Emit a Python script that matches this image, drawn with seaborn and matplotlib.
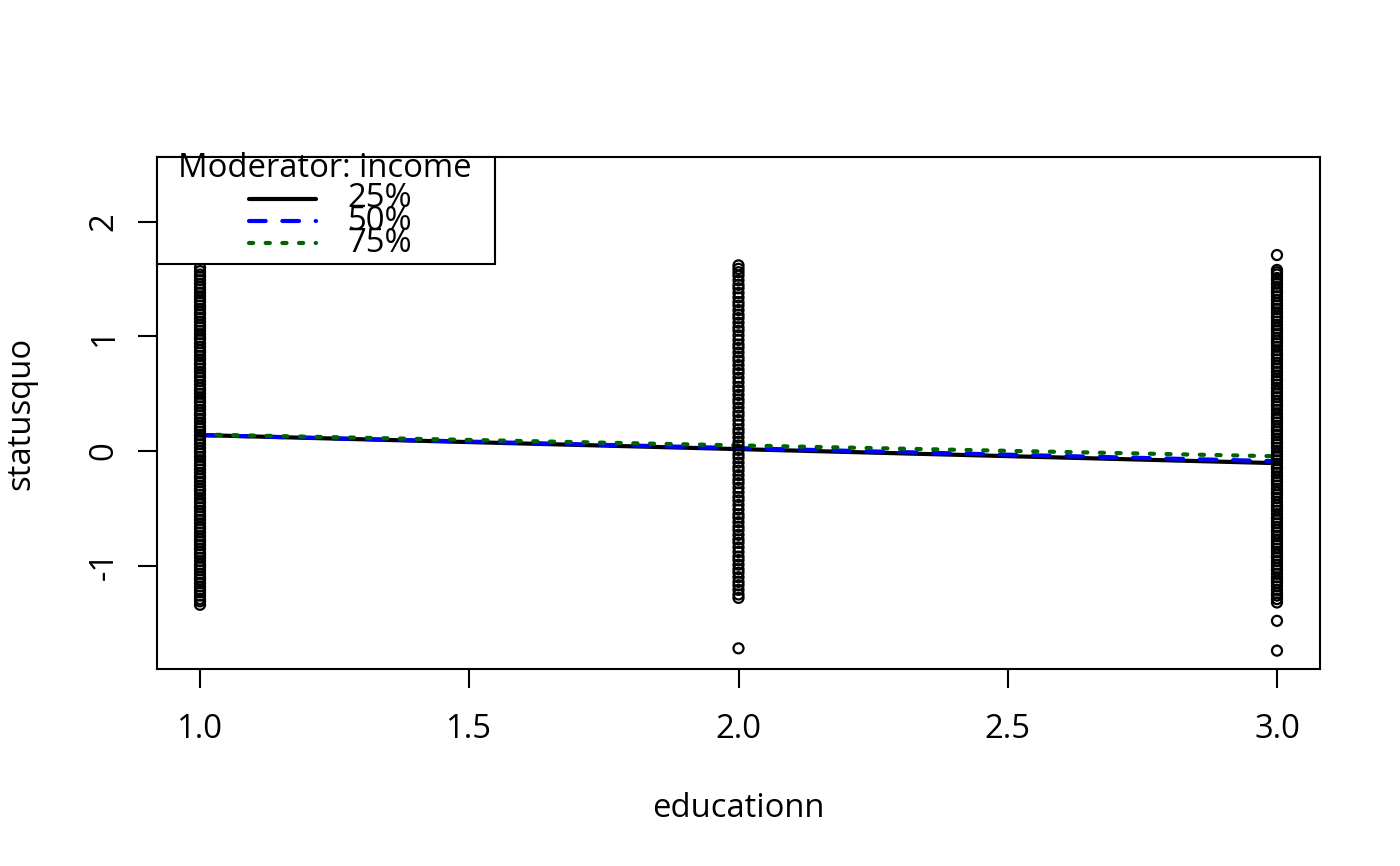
import pandas as pd
import seaborn as sns
import matplotlib.pyplot as plt
from matplotlib.patches import Rectangle

edu1_status = [-1.34, -1.31, -1.29, -1.26, -1.23, -1.21, -1.18, -1.15, -1.12, -1.10, -1.07, -1.04,
               -1.01, -0.99, -0.96, -0.93, -0.90, -0.88, -0.85, -0.82, -0.79, -0.77, -0.74, -0.71,
               -0.68, -0.66, -0.63, -0.60, -0.57, -0.55, -0.52, -0.49, -0.46, -0.44, -0.41, -0.38,
               -0.35, -0.33, -0.30, -0.27, -0.24, -0.22, -0.19, -0.16, -0.13, -0.11, -0.08, -0.05,
               -0.02, 0.00, 0.03, 0.06, 0.09, 0.11, 0.14, 0.17, 0.20, 0.22, 0.25, 0.28, 0.31, 0.33,
               0.36, 0.39, 0.42, 0.44, 0.47, 0.50, 0.53, 0.55, 0.58, 0.61, 0.64, 0.66, 0.69, 0.72,
               0.75, 0.77, 0.80, 0.83, 0.86, 0.88, 0.91, 0.94, 0.97, 0.99, 1.02, 1.05, 1.08, 1.10,
               1.13, 1.16, 1.19, 1.21, 1.24, 1.27, 1.30, 1.32, 1.35, 1.38, 1.41, 1.43, 1.46, 1.49,
               1.52, 1.54, 1.57, 1.60]
edu2_status = [-1.72, -1.28, -1.25, -1.21, -1.17, -1.14, -1.10, -1.06, -1.03, -0.99, -0.95, -0.92,
               -0.88, -0.84, -0.80, -0.77, -0.73, -0.69, -0.66, -0.62, -0.58, -0.55, -0.51, -0.47,
               -0.43, -0.40, -0.36, -0.32, -0.28, -0.25, -0.21, -0.17, -0.14, -0.10, -0.06, -0.03,
               0.01, 0.05, 0.08, 0.12, 0.16, 0.19, 0.23, 0.27, 0.31, 0.34, 0.38, 0.42, 0.45, 0.49,
               0.53, 0.56, 0.60, 0.64, 0.68, 0.71, 0.75, 0.79, 0.82, 0.86, 0.90, 0.93, 0.97, 1.01,
               1.05, 1.08, 1.12, 1.16, 1.19, 1.23, 1.27, 1.30, 1.34, 1.38, 1.42, 1.45, 1.49, 1.53,
               1.56, 1.59, 1.62]
edu3_status = [-1.74, -1.48, -1.32, -1.29, -1.26, -1.24, -1.21, -1.18, -1.15, -1.13, -1.10, -1.07,
               -1.04, -1.02, -0.99, -0.96, -0.93, -0.91, -0.88, -0.85, -0.82, -0.80, -0.77, -0.74,
               -0.71, -0.69, -0.66, -0.63, -0.60, -0.58, -0.55, -0.52, -0.49, -0.47, -0.44, -0.41,
               -0.38, -0.36, -0.33, -0.30, -0.27, -0.25, -0.22, -0.19, -0.16, -0.14, -0.11, -0.08,
               -0.05, -0.03, 0.00, 0.03, 0.06, 0.08, 0.11, 0.14, 0.17, 0.19, 0.22, 0.25, 0.28, 0.30,
               0.33, 0.36, 0.39, 0.41, 0.44, 0.47, 0.50, 0.52, 0.55, 0.58, 0.61, 0.63, 0.66, 0.69,
               0.72, 0.74, 0.77, 0.80, 0.83, 0.85, 0.88, 0.91, 0.94, 0.96, 0.99, 1.02, 1.05, 1.07,
               1.10, 1.13, 1.16, 1.18, 1.21, 1.24, 1.27, 1.29, 1.32, 1.35, 1.38, 1.40, 1.43, 1.46,
               1.49, 1.51, 1.54, 1.56, 1.58, 1.71]

# rectas predichas para cada cuantil del moderador
line_x = [1.0, 3.0]
pred_25 = [0.140, -0.105]
pred_50 = [0.140, -0.088]
pred_75 = [0.145, -0.045]
quant_labels = ["25%", "50%", "75%"]

x_ticks = [1.0, 1.5, 2.0, 2.5, 3.0]
y_ticks = [-1, 0, 1, 2]

df = pd.DataFrame({
    "educationn": [1.0] * len(edu1_status) + [2.0] * len(edu2_status) + [3.0] * len(edu3_status),
    "statusquo": edu1_status + edu2_status + edu3_status,
})

sns.set_style("ticks", {"axes.edgecolor": "black", "xtick.color": "black", "ytick.color": "black",
                        "text.color": "black", "axes.labelcolor": "black"})
plt.rcParams["font.family"] = ["Open Sans", "DejaVu Sans"]
plt.rcParams["font.size"] = 11.8

fig, ax = plt.subplots(figsize=(7, 4.33), dpi=200)
fig.subplots_adjust(left=0.1121, right=0.9429, top=0.8187, bottom=0.2275)

# lineas de prediccion
styles = [("black", "-"), ("blue", (0, (4, 4))), ("darkgreen", (0, (1, 3)))]
for vals, (col, ls) in zip([pred_25, pred_50, pred_75], styles):
    sns.lineplot(x=line_x, y=vals, color=col, linestyle=ls, linewidth=1.5,
                 dash_capstyle="round", ax=ax, zorder=2)

# puntos
sns.scatterplot(data=df, x="educationn", y="statusquo", s=13, marker="o",
                facecolors="none", edgecolor="black", linewidth=0.8, ax=ax, zorder=3)

ax.set_xlim(0.92, 3.08)
ax.set_ylim(-1.90, 2.565)
ax.set_xticks(x_ticks)
ax.set_xticklabels([f"{v:.1f}" for v in x_ticks])
ax.set_yticks(y_ticks)
ax.set_yticklabels([str(v) for v in y_ticks])
plt.setp(ax.get_yticklabels(), rotation=90, va="center")
ax.tick_params(length=7, width=0.75)
ax.tick_params(axis="x", pad=9)
ax.tick_params(axis="y", pad=6)
for sp in ax.spines.values():
    sp.set_linewidth(0.75)
    sp.set_color("black")

ax.set_xlabel("educationn", fontsize=11.8)
ax.set_ylabel("statusquo", fontsize=11.8)
ax.xaxis.set_label_coords(0.5, -0.240)
ax.yaxis.set_label_coords(-0.103, 0.5)

# leyenda estilo R
ax.add_patch(Rectangle((0, 0.791), 0.2906, 0.209, transform=ax.transAxes, facecolor="white",
                       edgecolor="black", linewidth=0.75, zorder=5, clip_on=False))
ax.text(0.1445, 0.978, "Moderator: income", transform=ax.transAxes, ha="center", va="center",
        fontsize=11.8, zorder=6)
rows = [0.918, 0.875, 0.832]
for (col, ls), lab, yy in zip(styles, quant_labels, rows):
    ax.plot([0.079, 0.137], [yy, yy], transform=ax.transAxes, color=col, linestyle=ls,
            linewidth=1.5, dash_capstyle="round", zorder=6, clip_on=False)
    ax.text(0.164, yy, lab, transform=ax.transAxes, ha="left", va="center", fontsize=11.8, zorder=6)

fig.savefig("out.png", dpi=200)
